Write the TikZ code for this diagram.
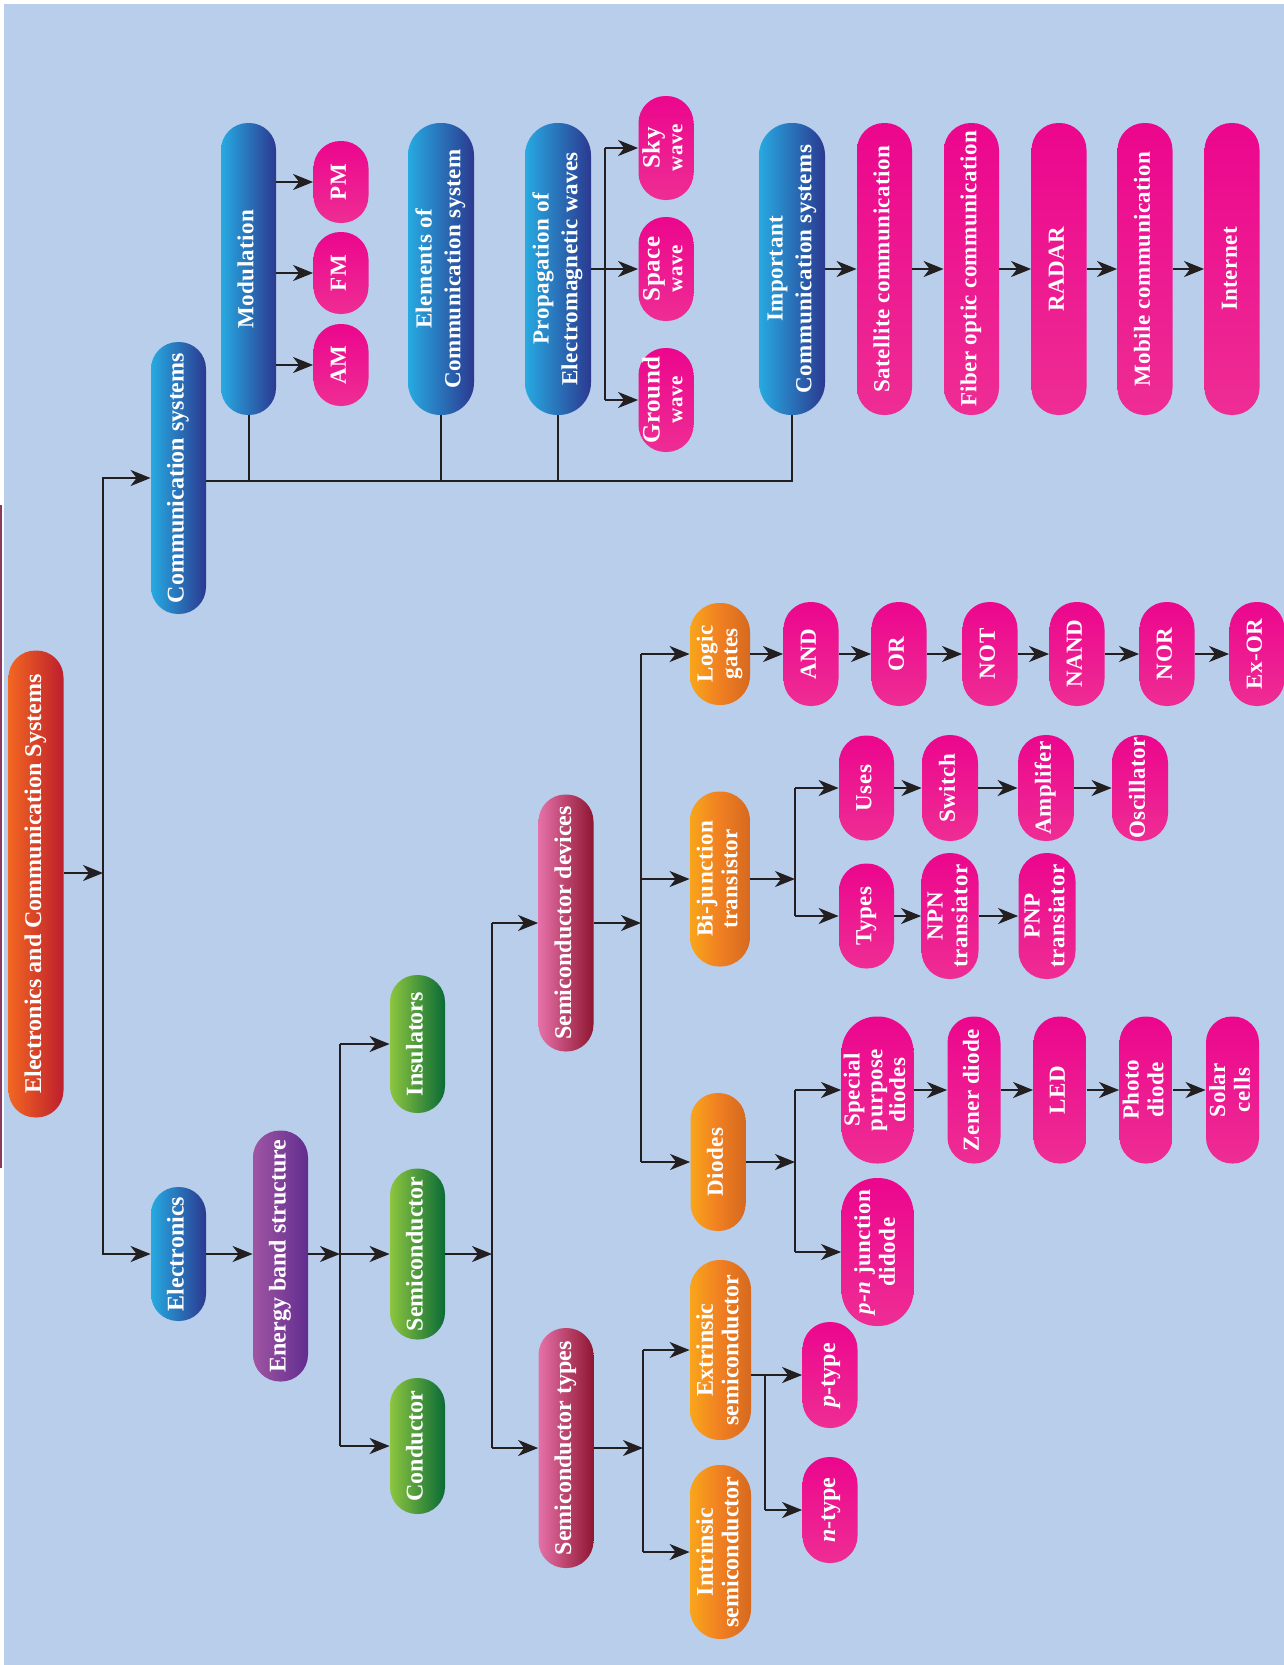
\documentclass[tikz,border=0pt]{standalone}
\usepackage{fontspec}
\usepackage{graphicx}
\setmainfont{Liberation Serif}
\newfontfamily\heavy{Liberation Serif}[LetterSpace=2]
\usetikzlibrary{arrows.meta}
\definecolor{bg}{HTML}{B8CEEB}
\definecolor{ink}{HTML}{231F20}
\definecolor{edge}{HTML}{8A3A60}
\definecolor{bluel}{HTML}{27AAE1}
\definecolor{blued}{HTML}{2B3990}
\definecolor{pinka}{HTML}{EC068D}
\definecolor{pinkb}{HTML}{EE2D94}
\definecolor{orgl}{HTML}{F9A51B}
\definecolor{orgm}{HTML}{F07F22}
\definecolor{orgd}{HTML}{D5691F}
\definecolor{grnl}{HTML}{8DC63F}
\definecolor{grnd}{HTML}{0A6B37}
\definecolor{purl}{HTML}{A055A3}
\definecolor{purd}{HTML}{612D8F}
\definecolor{marl}{HTML}{E671A9}
\definecolor{mard}{HTML}{8F1631}
\definecolor{rootl}{HTML}{F26722}
\definecolor{rootd}{HTML}{BE1E2D}
\newcommand{\vtxt}[1]{\rotatebox{90}{\begin{tabular}{@{}c@{}}#1\end{tabular}}}
\newcommand{\wv}[1]{{\fontsize{10.5}{11}\selectfont #1}}
\renewcommand{\arraystretch}{0.95}

\begin{document}
\begin{tikzpicture}[x=0.5pt, y=-0.5pt,
  pill/.style={rectangle, inner sep=0pt, text=white},
  thk/.style={minimum width=#1*0.5pt, rounded corners=#1*0.25pt-0.3pt},
  len/.style={minimum height=#1*0.5pt},
  g1/.style={font=\bfseries\fontsize{12}{13.5}\selectfont},
  g2/.style={font=\heavy\bfseries\fontsize{11.5}{13}\selectfont},
  rootpill/.style={pill, left color=rootl, right color=rootd},
  bluepill/.style={pill, left color=bluel, right color=blued},
  pinkpill/.style={pill, top color=pinka, bottom color=pinkb},
  orgpill/.style={pill, left color=orgl, right color=orgd, middle color=orgm},
  grnpill/.style={pill, left color=grnl, right color=grnd},
  purpill/.style={pill, left color=purl, right color=purd},
  marpill/.style={pill, left color=marl, right color=mard},
  ln/.style={draw=ink, line width=1pt},
  arr/.style={ln, -{Stealth[length=10pt, width=8pt, inset=3pt]}}]
  \useasboundingbox (0,0) rectangle (1284,1665);
  \fill[white] (0,0) rectangle (1284,1665);
  \fill[bg] (4,4) rectangle (1284,1665);
  \draw[edge, line width=1.2pt] (1,505) -- (1,1168);

  \node[rootpill, g1, thk=55, len=467] (root) at (36,884) {\vtxt{Electronics and Communication Systems}};
  \coordinate (trunk) at (103,873);
  \draw[arr] (root.east |- trunk) -- (trunk);
  \node[bluepill, g1, thk=55, len=272] (comm) at (178.5,478) {\vtxt{Communication systems}};
  \node[bluepill, g1, thk=55, len=134] (elec) at (178.5,1254) {\vtxt{Electronics}};
  \draw[arr] (trunk) |- (comm);
  \draw[arr] (trunk) |- (elec);

  \node[bluepill, g2, thk=55, len=292] (mod) at (248.5,269) {\vtxt{Modulation}};
  \node[bluepill, g2, thk=66, len=292] (elem) at (441,269) {\vtxt{Elements of\\[2pt]Communication system}};
  \node[bluepill, g2, thk=66, len=292] (prop) at (558,269) {\vtxt{Propagation of\\[2pt]Electromagnetic waves}};
  \node[bluepill, g2, thk=66, len=292] (imp) at (792,269) {\vtxt{Important\\[2pt]Communication systems}};
  \coordinate (cbus) at (comm.east |- 0,481);
  \draw[ln] (cbus) -| (imp);
  \foreach \n in {mod,elem,prop}
    \draw[ln] (\n) -- (\n |- cbus);

  \foreach \n/\y/\t in {pm/182/PM, fm/273/FM, am/365/AM}{
    \node[pinkpill, g2, thk=55, len=82] (\n) at (341,\y) {\vtxt{\t}};
    \draw[arr] (mod.east |- \n) -- (\n);
  }

  \coordinate (pbus) at (605,269);
  \foreach \n/\y/\a in {sky/148/Sky, space/269/Space, ground/400/Ground}
    \node[pinkpill, g2, thk=55, len=104] (\n) at (666,\y) {\vtxt{{\fontsize{12.5}{13}\selectfont\a}\\[-1pt]\wv{wave}}};
  \draw[arr] (prop) -- (space);
  \draw[ln] (pbus |- sky) -- (pbus |- ground);
  \draw[arr] (pbus |- sky) -- (sky);
  \draw[arr] (pbus |- ground) -- (ground);

  \foreach \n/\x/\t [remember=\n as \prev (initially imp)] in {sat/884.5/Satellite communication, fib/971.5/Fiber optic communication, radar/1059/RADAR, mob/1145/Mobile communication, inet/1232/Internet}{
    \node[pinkpill, g2, thk=55, len=292] (\n) at (\x,269) {\vtxt{\t}};
    \draw[arr] (\prev) -- (\n);
  }

  \node[purpill, g1, thk=55, len=251] (band) at (280.5,1256) {\vtxt{Energy band structure}};
  \draw[arr] (elec) -- (band.west |- elec);
  \coordinate (b1) at (340,1254);
  \draw[arr] (band.east |- b1) -- (b1);
  \foreach \n/\y/\l/\t in {ins/1044/138/Insulators, semi/1254/171/Semiconductor, cond/1446/136/Conductor}{
    \node[grnpill, g1, thk=55, len=\l] (\n) at (417.5,\y) {\vtxt{\t}};
    \draw[arr] (b1 |- \n) -- (\n);
  }
  \draw[ln] (b1 |- ins) -- (b1 |- cond);

  \coordinate (b2) at (492,1254);
  \draw[arr] (semi) -- (b2);
  \node[marpill, g1, thk=55, len=257] (sdev) at (566,923) {\vtxt{Semiconductor devices}};
  \node[marpill, g1, thk=55, len=240] (stype) at (566,1448) {\vtxt{Semiconductor types}};
  \draw[ln] (b2 |- sdev) -- (b2 |- stype);
  \draw[arr] (b2 |- sdev) -- (sdev);
  \draw[arr] (b2 |- stype) -- (stype);

  \coordinate (b3) at (641,923);
  \draw[arr] (sdev) -- (b3);
  \node[orgpill, g2, thk=60, len=102] (logic) at (720,654) {\vtxt{Logic\\gates}};
  \node[orgpill, g2, thk=60, len=175] (bjt) at (720,879) {\vtxt{Bi-junction\\transistor}};
  \node[orgpill, g2, thk=55, len=138] (diode) at (718,1162) {\vtxt{Diodes}};
  \draw[ln] (b3 |- logic) -- (b3 |- diode);
  \foreach \n in {logic,bjt,diode}
    \draw[arr] (b3 |- \n) -- (\n);

  \foreach \n/\x/\t [remember=\n as \prev (initially logic)] in {gand/811/AND, gor/899/OR, gnot/990/NOT, gnand/1077/NAND, gnor/1167/NOR, gexor/1257/Ex-OR}{
    \node[pinkpill, g2, thk=55, len=104] (\n) at (\x,654) {\vtxt{\t}};
    \draw[arr] (\prev) -- (\n);
  }

  \coordinate (b4) at (795,879);
  \draw[arr] (bjt) -- (b4);
  \node[pinkpill, g2, thk=55, len=105] (uses) at (866.5,788) {\vtxt{Uses}};
  \node[pinkpill, g2, thk=55, len=105] (types) at (866.5,916) {\vtxt{Types}};
  \draw[ln] (b4 |- uses) -- (b4 |- types);
  \draw[arr] (b4 |- uses) -- (uses);
  \draw[arr] (b4 |- types) -- (types);
  \foreach \n/\x/\t [remember=\n as \prev (initially uses)] in {sw/950/Switch, amp/1046/Amplifer, osc/1140/Oscillator}{
    \node[pinkpill, g2, thk=56, len=106] (\n) at (\x,788) {\vtxt{\t}};
    \draw[arr] (\prev) -- (\n);
  }
  \foreach \n/\x/\t [remember=\n as \prev (initially types)] in {npn/950/NPN, pnp/1047/PNP}{
    \node[pinkpill, g2, thk=57, len=126] (\n) at (\x,916) {\vtxt{\t\\transiator}};
    \draw[arr] (\prev) -- (\n);
  }

  \coordinate (b5) at (795,1162);
  \draw[arr] (diode) -- (b5);
  \node[pinkpill, g2, thk=72, len=147] (spd) at (877.5,1090) {\vtxt{Special\\[-1pt]purpose\\[-1pt]diodes}};
  \node[pinkpill, g2, thk=72, len=148] (pnj) at (877.5,1252) {\vtxt{\textit{p}-\textit{n} junction\\didode}};
  \draw[ln] (b5 |- spd) -- (b5 |- pnj);
  \draw[arr] (b5 |- spd) -- (spd);
  \draw[arr] (b5 |- pnj) -- (pnj);
  \foreach \n/\x/\t [remember=\n as \prev (initially spd)] in {zen/974/Zener diode, led/1060/LED, pho/1146/{Photo\\diode}, sol/1232.5/{Solar\\cells}}{
    \node[pinkpill, g2, thk=53, len=147] (\n) at (\x,1090) {\vtxt{\t}};
    \draw[arr] (\prev) -- (\n);
  }

  \coordinate (b6) at (643,1448);
  \draw[arr] (stype) -- (b6);
  \node[orgpill, g1, thk=61, len=180] (ext) at (720.5,1350) {\vtxt{Extrinsic\\semiconductor}};
  \node[orgpill, g1, thk=61, len=174] (intr) at (720.5,1552) {\vtxt{Intrinsic\\semiconductor}};
  \draw[ln] (b6 |- ext) -- (b6 |- intr);
  \draw[arr] (b6 |- ext) -- (ext);
  \draw[arr] (b6 |- intr) -- (intr);

  \node[pinkpill, g1, thk=55, len=106] (ptp) at (830,1375) {\vtxt{\textit{p}-type}};
  \node[pinkpill, g1, thk=55, len=106] (ntp) at (830,1510) {\vtxt{\textit{n}-type}};
  \coordinate (b7) at (765,1375);
  \draw[arr] (ext.east |- ptp) -- (ptp);
  \draw[ln] (b7) -- (b7 |- ntp);
  \draw[arr] (b7 |- ntp) -- (ntp);
\end{tikzpicture}
\end{document}
